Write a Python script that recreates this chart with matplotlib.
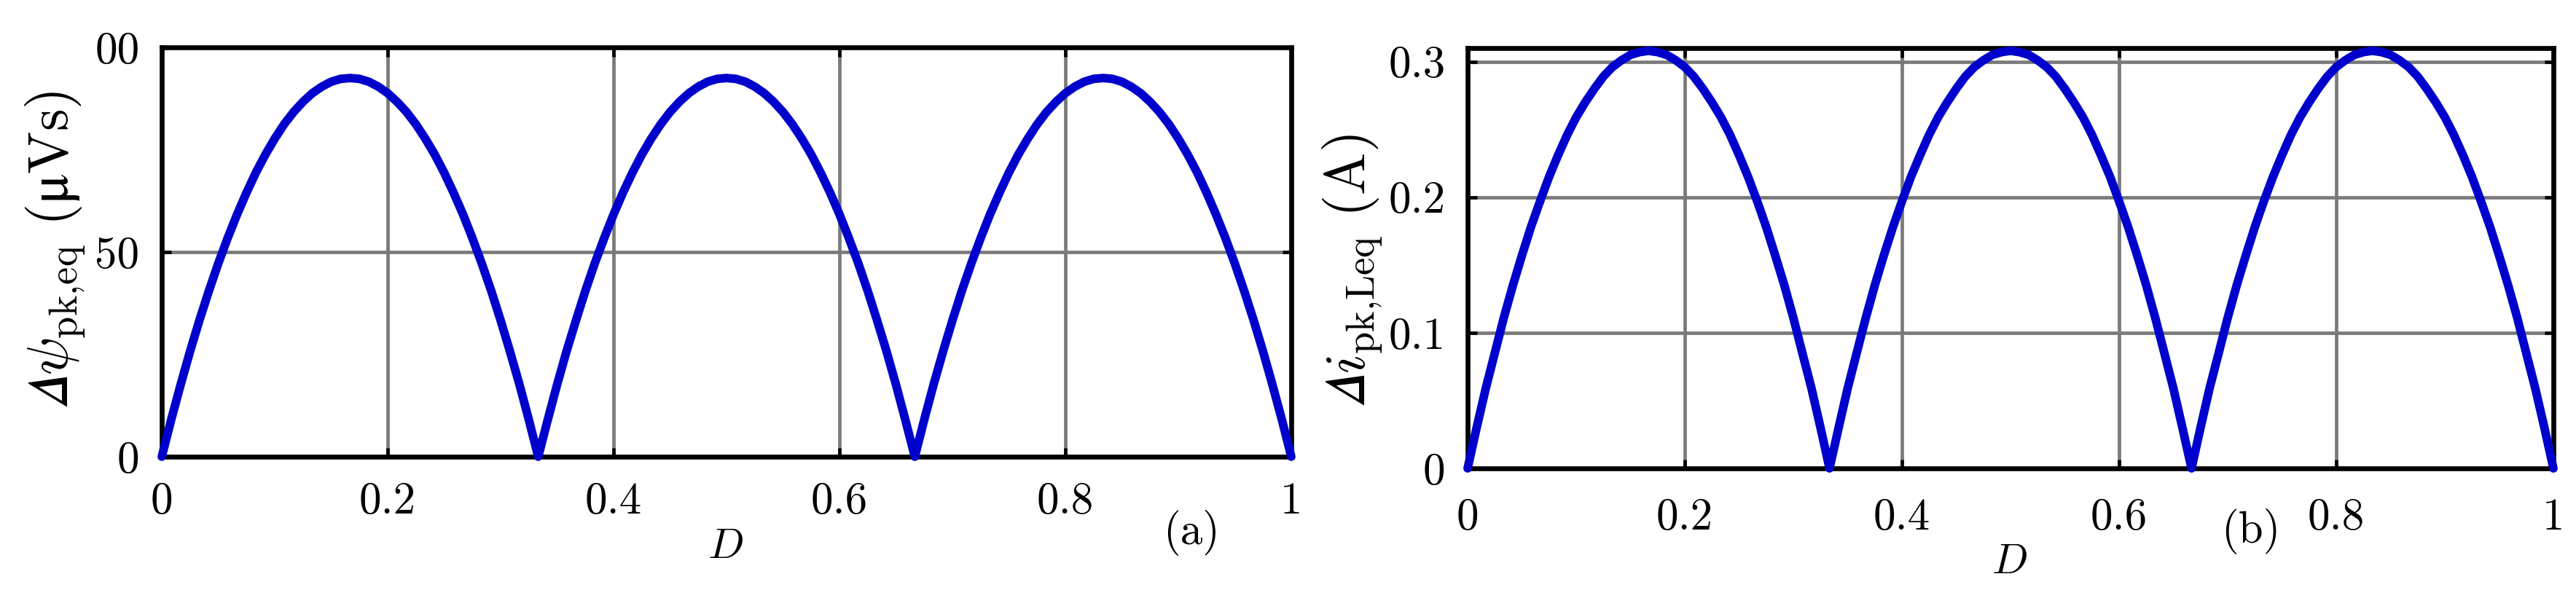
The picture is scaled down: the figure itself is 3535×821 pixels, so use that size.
import matplotlib
matplotlib.use('Agg')
import matplotlib.pyplot as plt

plt.rcParams['mathtext.fontset'] = 'cm'
plt.rcParams['font.family'] = ['cmr10', 'DejaVu Serif']
plt.rcParams['axes.unicode_minus'] = False

# ---- data ----
duty = [0.0, 0.0083, 0.0167, 0.025, 0.0333, 0.0417, 0.05, 0.0583, 0.0667, 0.075,
        0.0833, 0.0917, 0.1, 0.1083, 0.1167, 0.125, 0.1333, 0.1417, 0.15, 0.1583,
        0.1667, 0.175, 0.1833, 0.1917, 0.2, 0.2083, 0.2167, 0.225, 0.2333, 0.2417,
        0.25, 0.2583, 0.2667, 0.275, 0.2833, 0.2917, 0.3, 0.3083, 0.3167, 0.325,
        0.3333,
        0.3417, 0.35, 0.3583, 0.3667, 0.375, 0.3833, 0.3917, 0.4, 0.4083, 0.4167,
        0.425, 0.4333, 0.4417, 0.45, 0.4583, 0.4667, 0.475, 0.4833, 0.4917, 0.5,
        0.5083, 0.5167, 0.525, 0.5333, 0.5417, 0.55, 0.5583, 0.5667, 0.575, 0.5833,
        0.5917, 0.6, 0.6083, 0.6167, 0.625, 0.6333, 0.6417, 0.65, 0.6583, 0.6667,
        0.675, 0.6833, 0.6917, 0.7, 0.7083, 0.7167, 0.725, 0.7333, 0.7417, 0.75,
        0.7583, 0.7667, 0.775, 0.7833, 0.7917, 0.8, 0.8083, 0.8167, 0.825, 0.8333,
        0.8417, 0.85, 0.8583, 0.8667, 0.875, 0.8833, 0.8917, 0.9, 0.9083, 0.9167,
        0.925, 0.9333, 0.9417, 0.95, 0.9583, 0.9667, 0.975, 0.9833, 0.9917, 1.0]

psi_pk = [0.0, 9.0, 17.6, 25.7, 33.3, 40.5, 47.2, 53.4, 59.2, 64.5,
          69.4, 73.8, 77.7, 81.2, 84.2, 86.7, 88.8, 90.4, 91.6, 92.3,
          92.5, 92.3, 91.6, 90.4, 88.8, 86.7, 84.2, 81.2, 77.7, 73.8,
          69.4, 64.5, 59.2, 53.4, 47.2, 40.5, 33.3, 25.7, 17.6, 9.0,
          0.0,
          9.0, 17.6, 25.7, 33.3, 40.5, 47.2, 53.4, 59.2, 64.5, 69.4,
          73.8, 77.7, 81.2, 84.2, 86.7, 88.8, 90.4, 91.6, 92.3, 92.5,
          92.3, 91.6, 90.4, 88.8, 86.7, 84.2, 81.2, 77.7, 73.8, 69.4,
          64.5, 59.2, 53.4, 47.2, 40.5, 33.3, 25.7, 17.6, 9.0, 0.0,
          9.0, 17.6, 25.7, 33.3, 40.5, 47.2, 53.4, 59.2, 64.5, 69.4,
          73.8, 77.7, 81.2, 84.2, 86.7, 88.8, 90.4, 91.6, 92.3, 92.5,
          92.3, 91.6, 90.4, 88.8, 86.7, 84.2, 81.2, 77.7, 73.8, 69.4,
          64.5, 59.2, 53.4, 47.2, 40.5, 33.3, 25.7, 17.6, 9.0, 0.0]

i_pk = [0.0, 0.030, 0.059, 0.085, 0.111, 0.135, 0.157, 0.178, 0.197, 0.215,
        0.231, 0.246, 0.259, 0.270, 0.280, 0.289, 0.296, 0.301, 0.305, 0.307,
        0.308, 0.307, 0.305, 0.301, 0.296, 0.289, 0.280, 0.270, 0.259, 0.246,
        0.231, 0.215, 0.197, 0.178, 0.157, 0.135, 0.111, 0.085, 0.059, 0.030,
        0.0,
        0.030, 0.059, 0.085, 0.111, 0.135, 0.157, 0.178, 0.197, 0.215, 0.231,
        0.246, 0.259, 0.270, 0.280, 0.289, 0.296, 0.301, 0.305, 0.307, 0.308,
        0.307, 0.305, 0.301, 0.296, 0.289, 0.280, 0.270, 0.259, 0.246, 0.231,
        0.215, 0.197, 0.178, 0.157, 0.135, 0.111, 0.085, 0.059, 0.030, 0.0,
        0.030, 0.059, 0.085, 0.111, 0.135, 0.157, 0.178, 0.197, 0.215, 0.231,
        0.246, 0.259, 0.270, 0.280, 0.289, 0.296, 0.301, 0.305, 0.307, 0.308,
        0.307, 0.305, 0.301, 0.296, 0.289, 0.280, 0.270, 0.259, 0.246, 0.231,
        0.215, 0.197, 0.178, 0.157, 0.135, 0.111, 0.085, 0.059, 0.030, 0.0]

x_ticks = [0, 0.2, 0.4, 0.6, 0.8, 1]
x_labels = ['0', '0.2', '0.4', '0.6', '0.8', '1']
ya_ticks = [0, 50, 100]
ya_labels = ['0', '50', '00']
yb_ticks = [0, 0.1, 0.2, 0.3]
yb_labels = ['0', '0.1', '0.2', '0.3']

W, H = 3535, 821
fig = plt.figure(figsize=(W / 100, H / 100), dpi=100)

LINE_C = '#0000cc'
GRID_C = '#7a7a7a'
TICK_FS = 44
LABEL_FS = 56


def style(ax, xpad):
    for s in ax.spines.values():
        s.set_linewidth(4.8)
        s.set_color('black')
        s.set_zorder(4)
    ax.grid(True, color=GRID_C, linewidth=3.4, zorder=1)
    ax.set_axisbelow(True)
    ax.tick_params(axis='both', which='major', direction='in', length=9, width=3.4,
                   color='black', top=True, right=True, labelsize=TICK_FS)
    ax.tick_params(axis='x', pad=xpad)
    ax.tick_params(axis='y', pad=22)
    ax.set_xticks(x_ticks)
    ax.set_xticklabels(x_labels)
    ax.set_xlim(0, 1)


# panel (a)
axA = fig.add_axes([222 / W, (H - 627) / H, 1550 / W, 562 / H])
axA.plot(duty, psi_pk, color=LINE_C, linewidth=8.5, solid_joinstyle='round',
         solid_capstyle='round', clip_on=False, zorder=5)
axA.set_ylim(0, 100)
style(axA, 25)
axA.set_yticks(ya_ticks)
axA.set_yticklabels(ya_labels)
axA.text(-0.094, 0.505, r'$𝛥\psi_{\mathrm{pk{,}eq}}\ (\mathrm{μ Vs})$', transform=axA.transAxes,
         rotation=90, ha='center', va='center', rotation_mode='anchor', fontsize=LABEL_FS)
axA.text(0.499, -0.222, r'$D$', transform=axA.transAxes, ha='center', va='center', fontsize=42)
axA.text(0.9116, -0.186, '(a)', transform=axA.transAxes, ha='center', va='center', fontsize=44)

# panel (b)
axB = fig.add_axes([2014 / W, (H - 643) / H, 1490 / W, 577 / H])
axB.plot(duty, i_pk, color=LINE_C, linewidth=8.5, solid_joinstyle='round',
         solid_capstyle='round', clip_on=False, zorder=5)
axB.set_ylim(0, 0.31)
style(axB, 29)
axB.set_yticks(yb_ticks)
axB.set_yticklabels(yb_labels)
axB.text(-0.106, 0.47, r'$𝛥i_{\mathrm{pk{,}Leq}}\ (\mathrm{A})$', transform=axB.transAxes,
         rotation=90, ha='center', va='center', rotation_mode='anchor', fontsize=LABEL_FS)
axB.text(0.499, -0.2236, r'$D$', transform=axB.transAxes, ha='center', va='center', fontsize=42)
axB.text(0.7215, -0.150, '(b)', transform=axB.transAxes, ha='center', va='center', fontsize=44)

fig.savefig('out.png', dpi=100)
